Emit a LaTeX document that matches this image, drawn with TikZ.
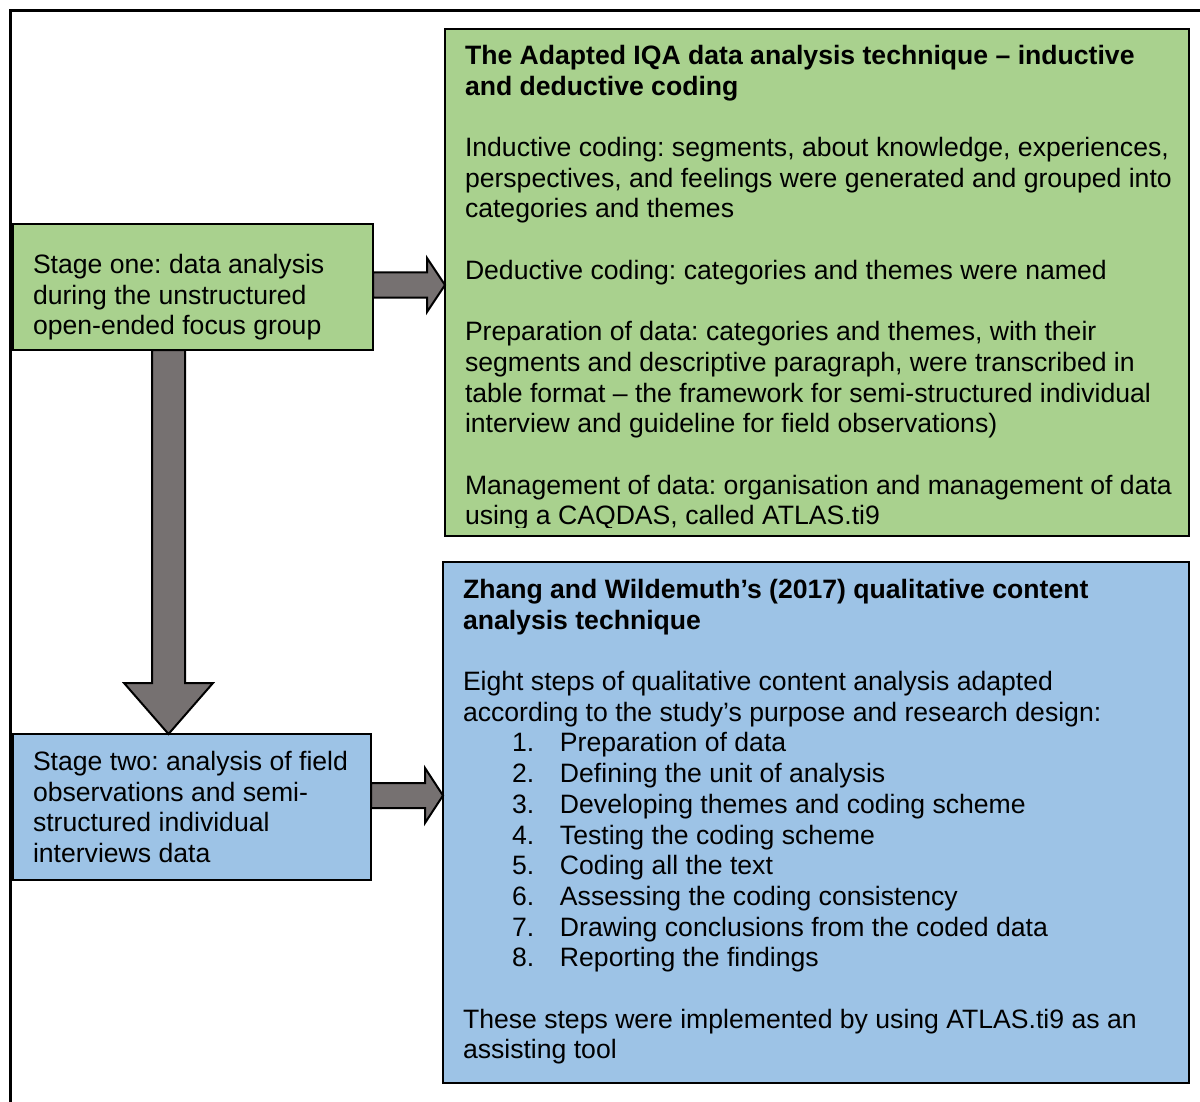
\documentclass[tikz,border=0pt]{standalone}
\usepackage{fontspec}
\setmainfont{Liberation Sans}
\usetikzlibrary{calc}
\frenchspacing
\definecolor{boxgreen}{HTML}{A9D18E}
\definecolor{boxblue}{HTML}{9DC3E6}
\definecolor{arrowgray}{HTML}{767171}
\begin{document}
\begin{tikzpicture}[x=1pt,y=-1pt,
  panel/.style={draw=black, line width=2pt, rectangle, anchor=north west,
    inner sep=0pt, outer sep=0pt},
  stagebox/.style={panel, line width=1.6pt},
  bodytext/.style={anchor=north west, inner sep=0pt, outer sep=0pt, align=left,
    font=\fontsize{26.6}{30.7}\selectfont},
  blockarrow/.style={fill=arrowgray, draw=black, line width=2pt, line join=miter}]
\useasboundingbox (0,0) rectangle (1200,1102);

% outer frame, running off the page to the right and bottom
\begin{scope}
  \clip (0,0) rectangle (1200,1102);
  \draw[line width=3pt] (10.5,1130) -- (10.5,10.5) -- (1230,10.5);
\end{scope}

% boxes
\node[panel, fill=boxgreen, minimum width=744pt, minimum height=507pt] (g) at (445,29) {};
\node[panel, fill=boxblue, minimum width=746pt, minimum height=521pt] (b) at (443,562) {};
\node[stagebox, fill=boxgreen, minimum width=360pt, minimum height=126pt] (s1) at (13,224) {};
\node[stagebox, fill=boxblue, minimum width=358pt, minimum height=146pt] (s2) at (13,734) {};

% stage texts
\node[bodytext] (s1t) at ($(s1.north west)+(20,28)$)
  {\strut Stage one: data analysis\\during the unstructured\\open-ended focus group};
\node[bodytext] (s2t) at ($(s2.north west)+(20,15)$)
  {\strut Stage two: analysis of field\\observations and semi-\\structured individual\\interviews data};

% inductive / deductive coding panel text (clipped to the text area)
\begin{scope}
  \clip (446,30) rectangle (1188,527);
  \node[bodytext] (gt) at ($(g.north west)+(20,14)$)
    {\strut\textbf{The Adapted IQA data analysis technique – inductive}\\
     \textbf{and deductive coding}\\[30.7pt]
     Inductive coding: segments, about knowledge, experiences,\\
     perspectives, and feelings were generated and grouped into\\
     categories and themes\\[30.7pt]
     Deductive coding: categories and themes were named\\[30.7pt]
     Preparation of data: categories and themes, with their\\
     segments and descriptive paragraph, were transcribed in\\
     table format – the framework for semi-structured individual\\
     interview and guideline for field observations)\\[30.7pt]
     Management of data: organisation and management of data\\
     using a CAQDAS, called ATLAS.ti9};
\end{scope}

% content analysis panel text
\newcommand{\stepitem}[2]{\hspace*{49pt}\makebox[48pt][l]{#1}#2}
\node[bodytext] (bt) at ($(b.north west)+(20,15)$)
  {\strut\textbf{Zhang and Wildemuth’s (2017) qualitative content}\\
   \textbf{analysis technique}\\[30.7pt]
   Eight steps of qualitative content analysis adapted\\
   according to the study’s purpose and research design:\\
   \stepitem{1.}{Preparation of data}\\
   \stepitem{2.}{Defining the unit of analysis}\\
   \stepitem{3.}{Developing themes and coding scheme}\\
   \stepitem{4.}{Testing the coding scheme}\\
   \stepitem{5.}{Coding all the text}\\
   \stepitem{6.}{Assessing the coding consistency}\\
   \stepitem{7.}{Drawing conclusions from the coded data}\\
   \stepitem{8.}{Reporting the findings}\\[30.7pt]
   These steps were implemented by using ATLAS.ti9 as an\\
   assisting tool};

% block arrows
\draw[blockarrow] (s1.east |- 0,272.5) -- (427,272.5) -- (427,258)
  -- (g.west |- 0,285) -- (427,312) -- (427,297.5) -- (s1.east |- 0,297.5) -- cycle;
\draw[blockarrow] (s2.east |- 0,783) -- (425,783) -- (425,768)
  -- (b.west |- 0,795.5) -- (425,823) -- (425,808) -- (s2.east |- 0,808) -- cycle;
\draw[blockarrow] (s1.south -| 152,0) -- (152,683) -- (124,683)
  -- (s2.north -| 168.5,0) -- (213,683) -- (185,683) -- (s1.south -| 185,0) -- cycle;
\end{tikzpicture}
\end{document}
